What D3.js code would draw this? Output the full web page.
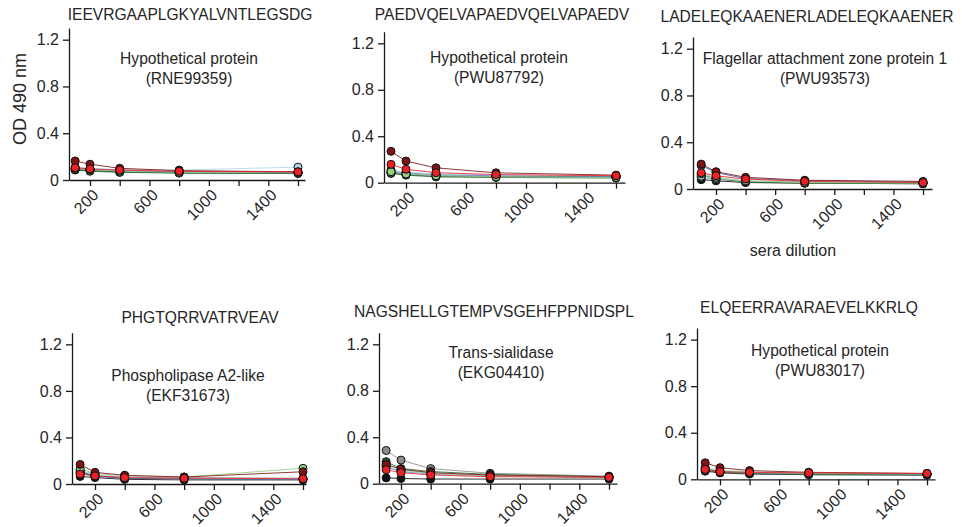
<!DOCTYPE html>
<html>
<head>
<meta charset="utf-8">
<script src="https://cdn.jsdelivr.net/npm/d3@7"></script>
<style>
  body { margin: 0; background: #fff; }
  svg text { font-family: "Liberation Sans", Arial, sans-serif; fill: #262626; }
</style>
</head>
<body>
<svg id="chart" width="962" height="527"></svg>
<script>
// data
const dilutions = [100, 200, 400, 800, 1600];
const xTicks = [200, 400, 600, 800, 1000, 1200, 1400, 1600];
const xTickLabels = [200, 600, 1000, 1400];
const yTicks = [0, 0.4, 0.8, 1.2];

const peptides = [
  "IEEVRGAAPLGKYALVNTLEGSDG",
  "PAEDVQELVAPAEDVQELVAPAEDV",
  "LADELEQKAAENERLADELEQKAAENER",
  "PHGTQRRVATRVEAV",
  "NAGSHELLGTEMPVSGEHFPPNIDSPL",
  "ELQEERRAVARAEVELKKRLQ"
];
const proteins = [
  "Hypothetical protein",
  "Hypothetical protein",
  "Flagellar attachment zone protein 1",
  "Phospholipase A2-like",
  "Trans-sialidase",
  "Hypothetical protein"
];
const accessions = ["(RNE99359)", "(PWU87792)", "(PWU93573)", "(EKF31673)", "(EKG04410)", "(PWU83017)"];

// sera, drawn in this order (red last, on top)
const sera = ["black", "grey", "darkgreen", "blue", "lightblue", "lightgreen", "darkred", "red"];
const seraColors = ["#111111", "#8c8c8c", "#1f6e35", "#3f63c4", "#a9d8ea", "#93cf84", "#7e1416", "#ee2126"];

// OD values per serum, one row per serum in the order above
const panel1Values = [
  [0.09, 0.08, 0.07, 0.06, 0.055],
  [0.09, 0.085, 0.075, 0.07, 0.065],
  [0.085, 0.075, 0.065, 0.06, 0.06],
  [0.10, 0.09, 0.08, 0.07, 0.065],
  [0.11, 0.10, 0.09, 0.085, 0.11],
  [0.10, 0.09, 0.075, 0.065, 0.06],
  [0.163, 0.135, 0.10, 0.08, 0.07],
  [0.105, 0.095, 0.085, 0.075, 0.07]
];
const panel2Values = [
  [0.085, 0.07, 0.055, 0.05, 0.05],
  [0.09, 0.075, 0.06, 0.055, 0.05],
  [0.08, 0.065, 0.05, 0.045, 0.04],
  [0.10, 0.085, 0.07, 0.06, 0.055],
  [0.11, 0.09, 0.075, 0.065, 0.06],
  [0.095, 0.075, 0.06, 0.05, 0.045],
  [0.27, 0.186, 0.128, 0.085, 0.065],
  [0.158, 0.115, 0.086, 0.07, 0.06]
];
const panel3Values = [
  [0.08, 0.07, 0.055, 0.05, 0.045],
  [0.10, 0.08, 0.065, 0.055, 0.05],
  [0.12, 0.09, 0.06, 0.05, 0.045],
  [0.20, 0.14, 0.09, 0.07, 0.06],
  [0.11, 0.09, 0.07, 0.06, 0.055],
  [0.13, 0.10, 0.07, 0.055, 0.05],
  [0.213, 0.148, 0.10, 0.075, 0.065],
  [0.139, 0.113, 0.085, 0.065, 0.055]
];
const panel4Values = [
  [0.065, 0.055, 0.04, 0.035, 0.035],
  [0.09, 0.07, 0.06, 0.055, 0.05],
  [0.11, 0.07, 0.05, 0.045, 0.04],
  [0.10, 0.065, 0.05, 0.045, 0.04],
  [0.12, 0.08, 0.06, 0.05, 0.045],
  [0.13, 0.09, 0.07, 0.06, 0.135],
  [0.168, 0.10, 0.075, 0.06, 0.105],
  [0.085, 0.07, 0.055, 0.05, 0.045]
];
const panel5Values = [
  [0.05, 0.045, 0.04, 0.04, 0.04],
  [0.286, 0.203, 0.13, 0.09, 0.065],
  [0.19, 0.13, 0.105, 0.08, 0.06],
  [0.145, 0.105, 0.085, 0.065, 0.055],
  [0.15, 0.11, 0.085, 0.065, 0.055],
  [0.17, 0.12, 0.09, 0.07, 0.055],
  [0.165, 0.125, 0.095, 0.075, 0.06],
  [0.12, 0.095, 0.075, 0.06, 0.055]
];
const panel6Values = [
  [0.07, 0.055, 0.045, 0.04, 0.035],
  [0.08, 0.065, 0.055, 0.05, 0.045],
  [0.075, 0.06, 0.05, 0.04, 0.04],
  [0.09, 0.07, 0.055, 0.05, 0.045],
  [0.10, 0.08, 0.065, 0.055, 0.05],
  [0.09, 0.07, 0.06, 0.05, 0.045],
  [0.142, 0.10, 0.075, 0.06, 0.05],
  [0.085, 0.065, 0.06, 0.055, 0.05]
];
const panelValues = [panel1Values, panel2Values, panel3Values, panel4Values, panel5Values, panel6Values];

// layout of each panel (pixels)
const layout = [
  { left: 69,  top: 28,    bottom: 180,   right: 305, x200: 90,  x1600: 298, tx: 190, ty: 20,    nx: 189, ny: 64 },
  { left: 384, top: 31.7,  bottom: 182.7, right: 625, x200: 406, x1600: 616, tx: 502, ty: 20,    nx: 499, ny: 63 },
  { left: 693, top: 37,    bottom: 189,   right: 932, x200: 716, x1600: 923, tx: 807, ty: 22,    nx: 825, ny: 64 },
  { left: 72,  top: 332.7, bottom: 484,   right: 306, x200: 95,  x1600: 303, tx: 200, ty: 323,   nx: 188, ny: 381 },
  { left: 379, top: 332.7, bottom: 483.7, right: 617, x200: 401, x1600: 609, tx: 494, ty: 317,   nx: 501, ny: 358 },
  { left: 697, top: 328,   bottom: 479.3, right: 935, x200: 720, x1600: 927, tx: 809, ty: 313,   nx: 820, ny: 356 }
];

const svg = d3.select("#chart");

layout.forEach((L, p) => {
  const g = svg.append("g");

  const x = d3.scaleLinear().domain([200, 1600]).range([L.x200, L.x1600]);
  x.domain([x.invert(L.left), x.invert(L.right)]).range([L.left, L.right]);

  const y = d3.scaleLinear().domain([0, 1.3]).range([L.bottom, L.top]);

  // x axis
  const xa = g.append("g")
    .attr("transform", `translate(0,${L.bottom})`)
    .call(d3.axisBottom(x).tickValues(xTicks).tickSize(6).tickSizeOuter(0)
      .tickFormat(d => xTickLabels.includes(d) ? d : ""));
  xa.selectAll("text")
    .style("font-size", "16px")
    .attr("text-anchor", "end")
    .attr("x", 0).attr("y", 0).attr("dy", 0)
    .attr("transform", "translate(9,16) rotate(-45)");

  // y axis
  const ya = g.append("g")
    .attr("transform", `translate(${L.left},0)`)
    .call(d3.axisLeft(y).tickValues(yTicks).tickSize(6).tickSizeOuter(0)
      .tickFormat(d => d === 0 ? "0" : d3.format(".1f")(d)));
  ya.selectAll("text").style("font-size", "16px").attr("dx", "-1px");

  g.selectAll(".domain, .tick line").attr("stroke", "#1a1a1a").attr("stroke-width", 1.3);

  // lines and points
  const line = d3.line()
    .x((d, i) => x(dilutions[i]))
    .y(d => y(d));

  panelValues[p].forEach((vals, s) => {
    g.append("path")
      .datum(vals)
      .attr("fill", "none")
      .attr("stroke", seraColors[s])
      .attr("stroke-width", 1)
      .attr("stroke-opacity", 0.85)
      .attr("d", line);
  });
  panelValues[p].forEach((vals, s) => {
    g.selectAll(null)
      .data(vals)
      .enter().append("circle")
      .attr("cx", (d, i) => x(dilutions[i]))
      .attr("cy", d => y(d))
      .attr("r", 4)
      .attr("fill", seraColors[s])
      .attr("stroke", "#111")
      .attr("stroke-width", 1);
  });

  // peptide title
  g.append("text")
    .attr("x", L.tx).attr("y", L.ty)
    .attr("text-anchor", "middle")
    .style("font-size", "15.6px")
    .text(peptides[p]);

  // protein annotation
  const note = g.append("text")
    .attr("x", L.nx).attr("y", L.ny)
    .attr("text-anchor", "middle")
    .style("font-size", "15.6px");
  note.append("tspan").attr("x", L.nx).text(proteins[p]);
  note.append("tspan").attr("x", L.nx).attr("dy", 19.5).text(accessions[p]);
});

// axis titles
svg.append("text")
  .attr("transform", "translate(26,99) rotate(-90)")
  .attr("text-anchor", "middle")
  .style("font-size", "18px")
  .text("OD 490 nm");

svg.append("text")
  .attr("x", 793).attr("y", 256)
  .attr("text-anchor", "middle")
  .style("font-size", "16px")
  .text("sera dilution");
</script>
</body>
</html>
